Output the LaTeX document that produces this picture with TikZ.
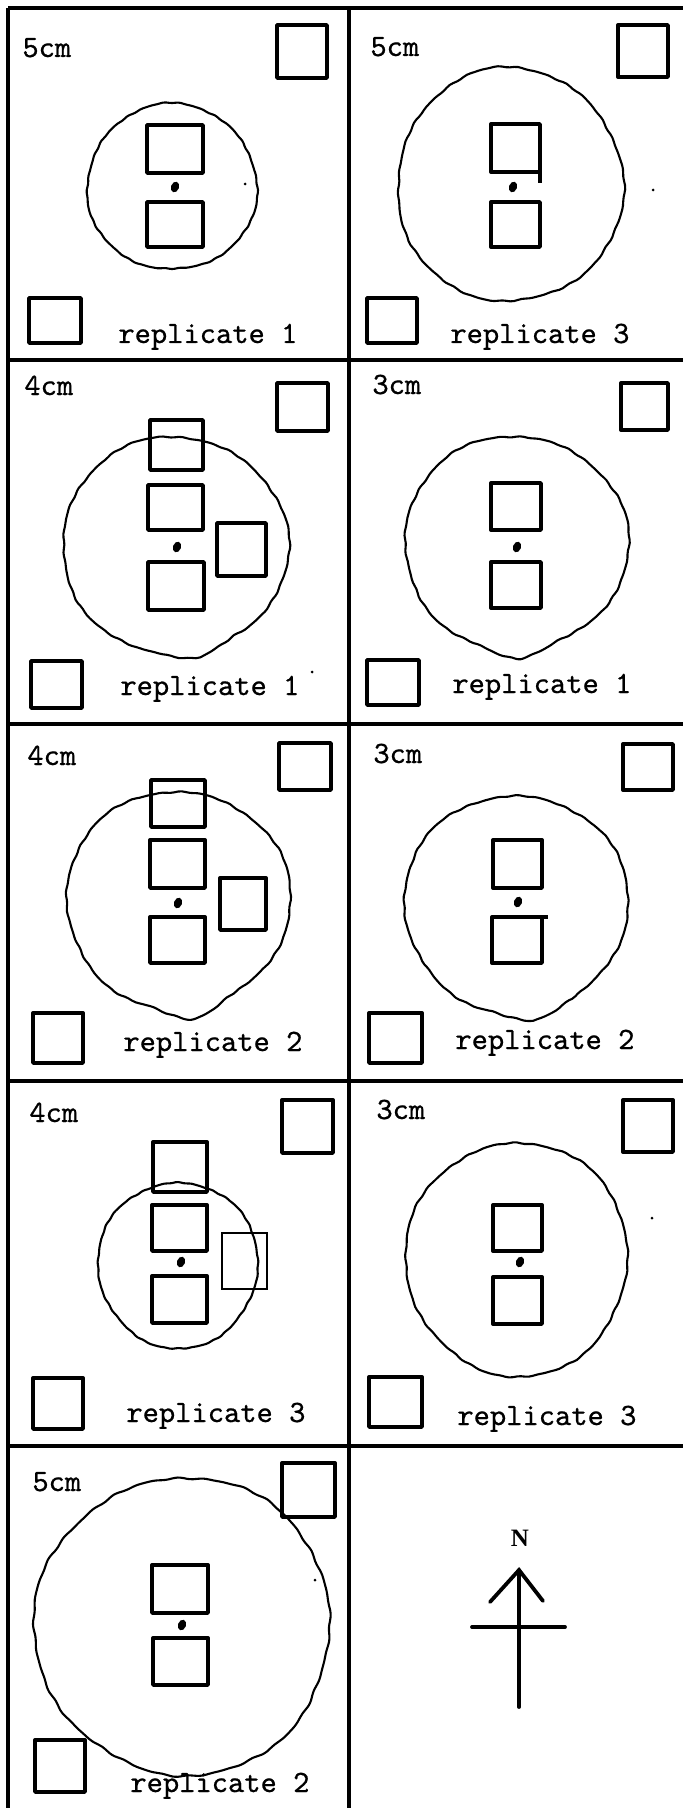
\documentclass[tikz,border=0pt]{standalone}
\usepackage{fontspec}
\newfontfamily\typewriter{lmmono10-regular.otf}[FakeBold=0.6]
\newfontfamily\compassfont{Liberation Serif}
\tikzset{
  gridline/.style={line width=1.9pt},
  boxline/.style={line width=1.7pt, line join=round},
  blobline/.style={line width=1.05pt, line join=round},
  lbl/.style={font=\typewriter\fontsize{15.5}{18}\selectfont, inner sep=0pt, anchor=base west},
  seedlet/.style={fill=black},
  arrowline/.style={line width=1.9pt, line cap=round},
}
\newcommand{\plotsq}[4]{\draw[boxline] (#1,#2) rectangle (#3,#4);}
% wavy hand-drawn ring: centre, radii, phase, cusp angle, cusp amount
\newcommand{\wobbly}[7]{\draw[blobline] plot[smooth cycle, samples=180, domain=0:358, variable=\ang]
  ({#1+#3*(1+0.012*sin(3*\ang+#5)+0.006*sin(7*\ang+2*#5)+0.0035*sin(29*\ang+#5)+0.0025*sin(41*\ang+#5)+#7*max(0,1-abs(\ang-#6)/20))*cos(\ang)},
   {#2+#4*(1+0.012*sin(3*\ang+#5)+0.006*sin(7*\ang+2*#5)+0.0035*sin(29*\ang+#5)+0.0025*sin(41*\ang+#5)+#7*max(0,1-abs(\ang-#6)/20))*sin(\ang)});}
\newcommand{\centredot}[2]{\fill[seedlet, rotate around={-20:(#1,#2)}] (#1,#2) ellipse [x radius=4, y radius=5.5];}
\newcommand{\speck}[2]{\fill (#1,#2) circle [radius=1.5];}
\begin{document}
\begin{tikzpicture}[x=0.5pt, y=-0.5pt]
\useasboundingbox (0,0) rectangle (683,1808);
% grid
\draw[gridline] (8,8) -- (8,1808);
\draw[gridline] (349,8) -- (349,1808);
\foreach \yy in {8,360,724,1081,1446} \draw[gridline] (8,\yy) -- (683,\yy);

% ---------- panel 1 ----------
\node[lbl] (t1) at (22,57) {5cm};
\node[lbl] (r1) at (118,343) {replicate 1};
\plotsq{277}{25}{327}{78}
\plotsq{29}{298}{81}{343}
\wobbly{172}{187}{85}{83}{10}{90}{0}
\plotsq{147}{125}{203}{173}
\plotsq{147}{202}{203}{247}
\centredot{175}{187}
\speck{245}{184}

% ---------- panel 2 ----------
\node[lbl] (t2) at (370,56) {5cm};
\node[lbl] (r2) at (450,343) {replicate 3};
\plotsq{618}{25}{668}{77}
\plotsq{367}{298}{417}{343}
\wobbly{510}{185}{113}{117}{40}{90}{0}
\plotsq{491}{124}{540}{172}
\draw[boxline] (540,172) -- (540,183);
\plotsq{491}{202}{540}{247}
\centredot{513}{187}
\speck{653}{190}

% ---------- panel 3 ----------
\node[lbl] (t3) at (24,395) {4cm};
\node[lbl] (r3) at (120,695) {replicate 1};
\plotsq{277}{383}{328}{431}
\plotsq{31}{661}{82}{708}
\wobbly{175}{545}{113}{108}{70}{79}{0.08}
\plotsq{150}{420}{203}{470}
\plotsq{148}{485}{203}{530}
\plotsq{217}{523}{266}{576}
\plotsq{148}{562}{204}{610}
\centredot{177}{547}
\speck{312}{672}

% ---------- panel 4 ----------
\node[lbl] (t4) at (372,394) {3cm};
\node[lbl] (r4) at (452,693) {replicate 1};
\plotsq{621}{383}{668}{430}
\plotsq{367}{660}{419}{705}
\wobbly{516}{543}{112}{107}{100}{89}{0.08}
\plotsq{491}{483}{541}{530}
\plotsq{491}{562}{541}{608}
\centredot{517}{547}

% ---------- panel 5 ----------
\node[lbl] (t5) at (27,765) {4cm};
\node[lbl] (r5) at (123,1051) {replicate 2};
\plotsq{279}{743}{331}{790}
\plotsq{33}{1013}{83}{1063}
\wobbly{178}{900}{112}{109}{130}{83}{0.1}
\plotsq{151}{780}{205}{827}
\plotsq{150}{840}{205}{888}
\plotsq{220}{878}{266}{930}
\plotsq{150}{917}{205}{963}
\centredot{178}{903}

% ---------- panel 6 ----------
\node[lbl] (t6) at (373,763) {3cm};
\node[lbl] (r6) at (455,1049) {replicate 2};
\plotsq{623}{744}{673}{790}
\plotsq{369}{1013}{422}{1063}
\wobbly{516}{904}{112}{109}{160}{82}{0.075}
\plotsq{493}{840}{542}{888}
\plotsq{492}{917}{542}{963}
\draw[boxline] (542,917) -- (548,917);
\centredot{518}{902}

% ---------- panel 7 ----------
\node[lbl] (t7) at (29,1122) {4cm};
\node[lbl] (r7) at (126,1422) {replicate 3};
\plotsq{282}{1100}{333}{1153}
\plotsq{33}{1378}{83}{1429}
\wobbly{178}{1265}{80}{83}{190}{90}{0}
\plotsq{153}{1142}{207}{1192}
\plotsq{152}{1205}{207}{1251}
\draw[line width=1.1pt] (222,1233) rectangle (267,1289);
\plotsq{152}{1276}{207}{1323}
\centredot{181}{1262}

% ---------- panel 8 ----------
\node[lbl] (t8) at (376,1119) {3cm};
\node[lbl] (r8) at (457,1425) {replicate 3};
\plotsq{623}{1100}{673}{1152}
\plotsq{369}{1377}{422}{1427}
\wobbly{517}{1259}{111}{117}{220}{90}{0}
\plotsq{493}{1205}{542}{1251}
\plotsq{493}{1277}{542}{1324}
\centredot{520}{1262}
\speck{652}{1218}

% ---------- panel 9 ----------
\node[lbl] (t9) at (32,1491) {5cm};
\node[lbl] (r9) at (130,1792) {replicate 2};
\plotsq{282}{1463}{335}{1517}
\plotsq{35}{1740}{85}{1792}
\wobbly{183}{1626}{148}{149}{250}{90}{0}
\plotsq{152}{1565}{208}{1613}
\plotsq{153}{1638}{208}{1685}
\centredot{182}{1625}
\speck{315}{1580}

% ---------- compass ----------
\node[font=\compassfont\bfseries\fontsize{12.5}{14}\selectfont, inner sep=0pt] (north) at (520,1538) {N};
\coordinate (tip) at (519,1570);
\coordinate (armL) at (490,1602);
\coordinate (armR) at (543,1601);
\coordinate (barL) at (472,1627);
\coordinate (barR) at (565,1627);
\coordinate (foot) at (519,1707);
\draw[arrowline] (armL) -- (tip) -- (armR);
\draw[arrowline] (tip) -- (foot);
\draw[arrowline] (barL) -- (barR);
\end{tikzpicture}
\end{document}
